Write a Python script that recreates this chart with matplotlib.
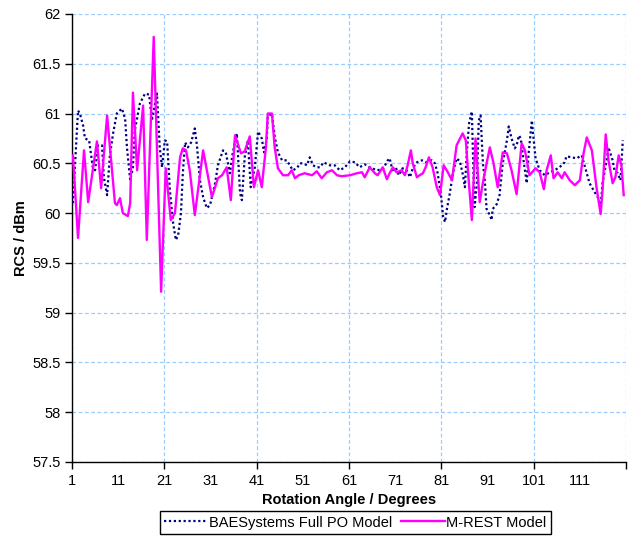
import matplotlib
matplotlib.use("Agg")
import matplotlib.pyplot as plt

plt.rcParams['font.family'] = ['Liberation Sans', 'DejaVu Sans']

# BAESystems Full PO Model (angle, RCS)
bae_angle = [1.2, 2.3, 2.7, 3.4, 3.8, 4.7, 5.5, 6.0, 6.6, 7.5, 7.9, 8.6, 9.2, 9.9, 10.7,
             11.8, 12.5, 12.9, 13.6, 14.2, 14.6, 15.7, 16.8, 17.7, 18.3, 19.4, 20.0, 20.5,
             21.1, 21.6, 22.2, 22.9, 23.5, 24.0, 24.6, 25.0, 25.5, 26.1, 26.8, 27.6, 28.1,
             28.7, 29.4, 30.2, 30.9, 32.0, 32.6, 33.7, 34.3, 35.2, 35.8, 36.7, 37.4, 37.8,
             38.4, 39.1, 39.7, 40.6, 41.3, 42.1, 42.6, 43.2, 43.4, 44.3, 44.9, 45.6, 46.5,
             47.5, 48.2, 48.8, 49.7, 50.4, 51.0, 51.9, 52.5, 53.2, 54.0, 54.7, 55.5, 56.8,
             57.9, 59.0, 60.1, 61.2, 62.3, 63.3, 64.4, 65.5, 67.0, 68.3, 69.4, 69.8, 70.5,
             71.1, 71.8, 72.6, 73.5, 74.2, 74.8, 75.7, 76.8, 77.8, 78.9, 79.6, 80.2, 80.9,
             81.4, 81.8, 82.2, 82.8, 83.5, 84.3, 85.0, 85.6, 86.1, 86.5, 87.0, 87.6, 87.9,
             88.2, 88.7, 89.1, 89.5, 90.0, 90.4, 90.8, 91.5, 91.9, 92.1, 93.0, 93.6, 94.3,
             95.2, 95.6, 96.2, 96.9, 97.3, 97.8, 98.2, 98.8, 99.5, 99.9, 100.6, 100.8, 101.4,
             102.3, 103.4, 104.5, 105.5, 106.6, 107.7, 108.1, 109.2, 110.3, 111.4, 112.3,
             113.1, 114.2, 114.9, 115.5, 115.9, 116.8, 117.2, 118.1, 118.5, 119.2, 119.8, 120.3]
bae_rcs = [60.10, 61.03, 61.00, 60.88, 60.75, 60.73, 60.46, 60.43, 60.68, 60.68, 60.36, 60.18,
           60.58, 60.80, 61.00, 61.05, 60.95, 60.66, 60.33, 60.46, 60.83, 61.10, 61.20, 61.19,
           60.93, 61.20, 60.66, 60.46, 60.73, 60.72, 60.23, 59.90, 59.73, 59.78, 60.00, 60.40,
           60.71, 60.66, 60.71, 60.85, 60.66, 60.33, 60.16, 60.05, 60.08, 60.30, 60.48, 60.63,
           60.61, 60.40, 60.60, 60.80, 60.20, 60.13, 60.56, 60.73, 60.26, 60.46, 60.82, 60.75,
           60.61, 60.75, 60.97, 61.00, 60.77, 60.61, 60.53, 60.53, 60.48, 60.43, 60.45, 60.50,
           60.50, 60.48, 60.56, 60.48, 60.46, 60.46, 60.51, 60.48, 60.48, 60.43, 60.46, 60.52,
           60.51, 60.46, 60.49, 60.46, 60.43, 60.44, 60.53, 60.55, 60.41, 60.46, 60.38, 60.45,
           60.43, 60.36, 60.45, 60.51, 60.53, 60.51, 60.53, 60.50, 60.40, 60.19, 59.96, 59.91,
           60.04, 60.19, 60.40, 60.55, 60.52, 60.40, 60.26, 60.60, 60.90, 61.02, 60.50, 60.06,
           60.30, 60.93, 60.98, 60.50, 60.33, 60.04, 59.98, 59.93, 60.04, 60.09, 60.18, 60.50,
           60.73, 60.87, 60.75, 60.65, 60.68, 60.78, 60.75, 60.53, 60.30, 60.60, 60.93, 60.83,
           60.55, 60.43, 60.38, 60.41, 60.43, 60.46, 60.51, 60.57, 60.56, 60.55, 60.58, 60.43,
           60.30, 60.21, 60.16, 60.06, 60.30, 60.53, 60.66, 60.53, 60.43, 60.40, 60.33, 60.73]

# M-REST Model (angle, RCS)
mrest_angle = [1.2, 2.3, 3.6, 4.5, 6.4, 7.3, 8.6, 10.3, 10.7, 11.4, 12.0, 13.1, 13.6, 14.2,
               15.1, 16.4, 17.2, 18.7, 20.3, 21.3, 22.4, 23.3, 24.4, 25.0, 25.7, 26.5, 27.6,
               29.4, 31.3, 32.6, 33.5, 34.5, 35.4, 36.3, 37.6, 38.4, 39.5, 40.4, 41.3, 42.1,
               43.0, 43.4, 44.3, 44.9, 45.6, 46.7, 47.8, 48.6, 49.3, 50.1, 51.4, 53.0, 54.0,
               55.1, 56.2, 57.3, 58.4, 59.4, 61.2, 62.7, 63.8, 64.4, 65.5, 66.6, 67.2, 68.3,
               69.2, 69.8, 70.5, 71.3, 72.4, 73.1, 73.7, 74.4, 74.8, 75.7, 76.3, 77.0, 77.6,
               78.3, 79.1, 80.0, 80.7, 81.5, 82.4, 83.3, 84.3, 85.6, 86.3, 86.8, 87.6, 88.4,
               89.3, 90.2, 91.5, 92.3, 93.2, 94.3, 95.2, 96.2, 97.3, 98.4, 99.1, 100.1, 101.4,
               102.3, 103.2, 103.8, 104.7, 105.3, 106.2, 107.1, 107.7, 108.8, 109.9, 111.0,
               111.8, 112.5, 113.6, 114.6, 115.5, 115.9, 116.6, 117.2, 118.1, 118.7, 119.4,
               120.0, 120.5]
mrest_rcs = [60.58, 59.75, 60.63, 60.11, 60.72, 60.25, 60.98, 60.10, 60.08, 60.15, 60.00, 59.97,
             60.10, 61.21, 60.43, 61.08, 59.73, 61.77, 59.21, 60.45, 59.93, 60.00, 60.56, 60.65,
             60.63, 60.43, 59.98, 60.63, 60.16, 60.35, 60.38, 60.46, 60.13, 60.78, 60.60, 60.62,
             60.77, 60.26, 60.43, 60.26, 60.66, 61.00, 61.00, 60.66, 60.45, 60.38, 60.38, 60.43,
             60.35, 60.38, 60.40, 60.38, 60.42, 60.35, 60.41, 60.43, 60.38, 60.37, 60.38, 60.40,
             60.41, 60.36, 60.46, 60.40, 60.38, 60.46, 60.34, 60.40, 60.46, 60.41, 60.43, 60.38,
             60.48, 60.63, 60.50, 60.36, 60.38, 60.40, 60.46, 60.56, 60.46, 60.26, 60.18, 60.48,
             60.41, 60.33, 60.68, 60.80, 60.73, 60.40, 59.93, 60.75, 60.11, 60.36, 60.66, 60.50,
             60.26, 60.61, 60.60, 60.43, 60.19, 60.70, 60.63, 60.38, 60.45, 60.41, 60.24, 60.43,
             60.58, 60.35, 60.41, 60.35, 60.41, 60.33, 60.28, 60.33, 60.60, 60.76, 60.63, 60.26,
             59.99, 60.22, 60.79, 60.53, 60.30, 60.36, 60.58, 60.48, 60.18]

series_names = ["BAESystems Full PO Model", "M-REST Model"]
x_label_ticks = [1, 11, 21, 31, 41, 51, 61, 71, 81, 91, 101, 111]
y_ticks = [57.5, 58, 58.5, 59, 59.5, 60, 60.5, 61, 61.5, 62]

fig = plt.figure(figsize=(6.3, 5.37), dpi=100)
ax = fig.add_axes([0.1143, 0.1397, 0.8794, 0.8343])

grid_col = '#99CCFF'
ax.plot(bae_angle, bae_rcs, color='#000080', linestyle=(0, (1, 1.2)), linewidth=1.6,
        label=series_names[0], zorder=3)
ax.plot(mrest_angle, mrest_rcs, color='#FF00FF', linestyle='-', linewidth=1.7,
        label=series_names[1], zorder=4)

ax.set_xlim(1, 121)
ax.set_ylim(57.5, 62)

# x: tick marks + gridlines every 20, labels every 10
major = list(range(1, 122, 20))
ax.set_xticks(major)
ax.set_xticklabels([str(v) if v in x_label_ticks else '' for v in major])
minor = [v for v in x_label_ticks if v not in major]
ax.set_xticks(minor, minor=True)
ax.set_xticklabels([str(v) for v in minor], minor=True)
ax.tick_params(axis='x', which='major', direction='out', length=5, width=1, pad=4,
               labelsize=10.5)
ax.tick_params(axis='x', which='minor', length=0, pad=9, labelsize=10.5)

ax.set_yticks(y_ticks)
ax.set_yticklabels([('%g' % v) for v in y_ticks])
ax.tick_params(axis='y', direction='out', length=5, width=1, pad=3, labelsize=10.5)

ax.grid(True, which='major', axis='both', color=grid_col, linestyle=(0, (3, 2)),
        linewidth=0.9, zorder=0)
ax.set_axisbelow(True)

for s in ['top', 'right']:
    ax.spines[s].set_visible(False)
for s in ['left', 'bottom']:
    ax.spines[s].set_color('black')
    ax.spines[s].set_linewidth(1.0)

ax.set_xlabel('Rotation Angle / Degrees', fontsize=10.5, fontweight='bold', labelpad=3)
ax.set_ylabel('RCS / dBm', fontsize=10.5, fontweight='bold', labelpad=3)

leg = fig.legend(loc='center', bbox_to_anchor=(0.564, 0.027), ncol=2, fontsize=10.5,
                 frameon=True, fancybox=False, edgecolor='black', framealpha=1,
                 handlelength=3.0, handletextpad=0.1, columnspacing=0.6,
                 borderpad=0.3, borderaxespad=0)
leg.get_frame().set_linewidth(1.0)

fig.savefig('out.png', dpi=100)
